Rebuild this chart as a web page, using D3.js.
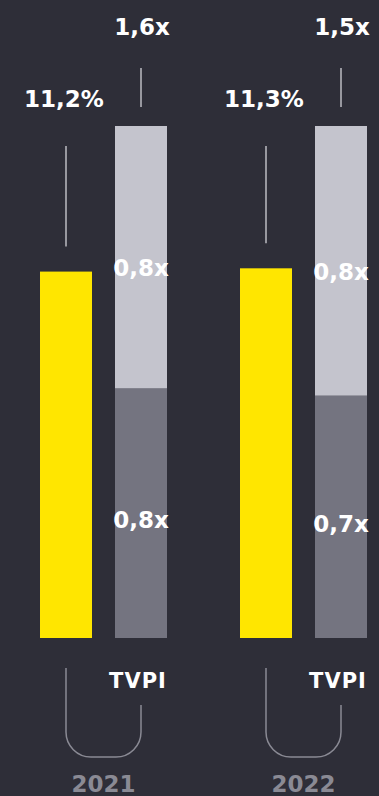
<!DOCTYPE html>
<html>
<head>
<meta charset="utf-8">
<script src="https://cdn.jsdelivr.net/npm/d3@7"></script>
<style>
  html, body { margin: 0; padding: 0; background: #2e2e38; overflow: hidden; }
  svg { display: block; }
  text { font-family: Verdana, "DejaVu Sans", sans-serif; font-weight: bold; }
</style>
</head>
<body>
<svg id="chart" width="379" height="796"></svg>
<script>
// ---- data ----
const years = ["2021", "2022"];
const irrValues = [11.2, 11.3];
const irrLabels = ["11,2%", "11,3%"];
const realizedValues = [0.78, 0.71];     // dark grey (bottom)
const unrealizedValues = [0.82, 0.79];   // light grey (top)
const realizedLabels = ["0,8x", "0,7x"];
const unrealizedLabels = ["0,8x", "0,8x"];
const tvpiLabels = ["1,6x", "1,5x"];
const seriesKeys = ["irr", "tvpi"];
const groupLabel = "TVPI";

// ---- styles ----
const BG = "#2e2e38", YELLOW = "#ffe600", LIGHT = "#c4c4cd", DARK = "#747480";
const YEAR_COL = "#8a8a94", LINE_COL = "#d2d2d8", BRACKET_COL = "#8a8a94";

const svg = d3.select("#chart");
svg.append("rect").attr("width", 379).attr("height", 796).attr("fill", BG);

const baseY = 638, topY = 126;

const x0 = d3.scaleBand().domain(years).range([40, 367]).paddingInner(0.365).paddingOuter(0);
const x1 = d3.scaleBand().domain(seriesKeys).range([0, x0.bandwidth()]).paddingInner(0.3067).paddingOuter(0);
const yIrr = d3.scaleLinear().domain([0, 15.65]).range([baseY, topY]);

years.forEach((yr, i) => {
  const g = svg.append("g").attr("transform", `translate(${x0(yr)},0)`);
  const bw = x1.bandwidth();
  const xi = x1("irr"), xt = x1("tvpi");
  const ci = xi + bw / 2, ct = xt + bw / 2;

  // IRR bar
  g.append("rect").attr("x", xi).attr("y", yIrr(irrValues[i]))
    .attr("width", bw).attr("height", yIrr(0) - yIrr(irrValues[i])).attr("fill", YELLOW);

  // TVPI stacked (normalised to full height)
  const total = realizedValues[i] + unrealizedValues[i];
  const yT = d3.scaleLinear().domain([0, total]).range([baseY, topY]);
  const stack = d3.stack().keys(["realized", "unrealized"])([{realized: realizedValues[i], unrealized: unrealizedValues[i]}]);
  const fills = [DARK, LIGHT];
  stack.forEach((s, k) => {
    const d = s[0];
    g.append("rect").attr("x", xt).attr("y", yT(d[1]))
      .attr("width", bw).attr("height", yT(d[0]) - yT(d[1])).attr("fill", fills[k]);
  });

  // segment labels
  const midR = (yT(0) + yT(realizedValues[i])) / 2;
  const midU = (yT(realizedValues[i]) + yT(total)) / 2;
  g.append("text").attr("x", ct).attr("y", midR + 15).attr("text-anchor", "middle")
    .attr("font-size", 23).attr("fill", "#ffffff").text(realizedLabels[i]);
  g.append("text").attr("x", ct).attr("y", midU + 19).attr("text-anchor", "middle")
    .attr("font-size", 23).attr("fill", "#ffffff").text(unrealizedLabels[i]);

  // IRR label + connector
  g.append("text").attr("x", ci - 2).attr("y", 107).attr("text-anchor", "middle")
    .attr("font-size", 23).attr("fill", "#ffffff").text(irrLabels[i]);
  g.append("line").attr("x1", ci).attr("x2", ci).attr("y1", 146).attr("y2", yIrr(irrValues[i]) - 25)
    .attr("stroke", LINE_COL).attr("stroke-width", 1.3);

  // TVPI total label + connector
  g.append("text").attr("x", ct + 1).attr("y", 35).attr("text-anchor", "middle")
    .attr("font-size", 23).attr("fill", "#ffffff").text(tvpiLabels[i]);
  g.append("line").attr("x1", ct).attr("x2", ct).attr("y1", 68).attr("y2", 107)
    .attr("stroke", LINE_COL).attr("stroke-width", 1.3);

  // TVPI group label
  g.append("text").attr("x", ct - 3).attr("y", 688).attr("text-anchor", "middle")
    .attr("font-size", 21).attr("letter-spacing", 1).attr("fill", "#ffffff").text(groupLabel);

  // bracket
  const r = 25, by = 757;
  const p = d3.path();
  p.moveTo(ci, 668);
  p.lineTo(ci, by - r);
  p.arcTo(ci, by, ci + r, by, r);
  p.lineTo(ct - r, by);
  p.arcTo(ct, by, ct, by - r, r);
  p.lineTo(ct, 705);
  g.append("path").attr("d", p.toString()).attr("fill", "none")
    .attr("stroke", BRACKET_COL).attr("stroke-width", 1.5);

  // year label
  g.append("text").attr("x", (ci + ct) / 2).attr("y", 792).attr("text-anchor", "middle")
    .attr("font-size", 23).attr("fill", YEAR_COL).text(yr);
});
</script>
</body>
</html>
